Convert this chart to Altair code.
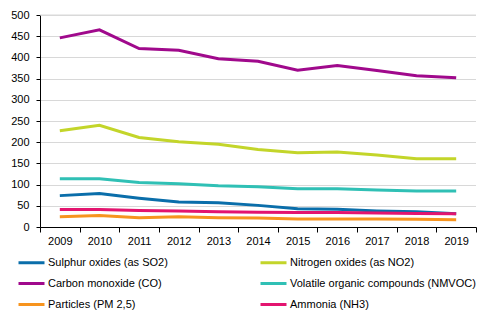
import altair as alt
import pandas as pd

years = ["2009", "2010", "2011", "2012", "2013", "2014", "2015", "2016", "2017", "2018", "2019"]
so2 = [74, 79, 68, 59, 57, 51, 43, 42, 38, 36, 31]
no2 = [227, 240, 211, 201, 195, 183, 175, 177, 170, 161, 161]
co = [446, 465, 421, 417, 397, 391, 370, 381, 369, 357, 352]
voc = [114, 114, 105, 102, 97, 95, 90, 90, 87, 85, 85]
pm = [24, 27, 22, 24, 22, 21, 19, 19, 19, 18, 17]
nh3 = [41, 41, 39, 38, 36, 35, 34, 34, 33, 32, 31]

series = ["Sulphur oxides (as SO2)", "Nitrogen oxides (as NO2)", "Carbon monoxide (CO)",
          "Volatile organic compounds (NMVOC)", "Particles (PM 2,5)", "Ammonia (NH3)"]
values = [so2, no2, co, voc, pm, nh3]
colors = ["#0a6eaa", "#c3d52a", "#a0098c", "#30c0b5", "#f7941e", "#e3146f"]
y_ticks = [0, 50, 100, 150, 200, 250, 300, 350, 400, 450, 500]

rows = []
for name, vals in zip(series, values):
    for y, v in zip(years, vals):
        rows.append({"Year": y, "Series": name, "Value": v})
df = pd.DataFrame(rows)

y_axis = alt.Axis(title=None, values=y_ticks, grid=True, labelOverlap=False,
                  gridColor="#b0b0b0", gridDash=[1, 1], domainColor="#000",
                  tickColor="#000", tickSize=4, labelFontSize=11, labelColor="#000",
                  labelPadding=7, labelFont="Liberation Sans")
y_scale = alt.Scale(domain=[0, 500])

lines = alt.Chart(df).mark_line(strokeWidth=3).encode(
    x=alt.X("Year:O", bandPosition=0.5,
            scale=alt.Scale(type="band", paddingInner=0, paddingOuter=0),
            axis=alt.Axis(title=None, labelAngle=0, tickBand="extent", grid=False,
                          domainColor="#000", tickColor="#000", tickSize=5,
                          labelFontSize=11, labelColor="#000", labelPadding=3,
                          labelFont="Liberation Sans")),
    y=alt.Y("Value:Q", scale=y_scale, axis=y_axis),
    color=alt.Color("Series:N", scale=alt.Scale(domain=series, range=colors),
                    legend=alt.Legend(title=None, orient="none", legendX=-23, legendY=233,
                                      direction="horizontal",
                                      columns=2, columnPadding=86, rowPadding=-4,
                                      symbolType="stroke", symbolSize=676,
                                      symbolStrokeWidth=3, labelFontSize=11,
                                      labelFont="Liberation Sans", labelColor="#000",
                                      labelOffset=2, padding=0, labelLimit=300)),
)

top = alt.Chart().mark_rule(color="#d9d9d9", strokeWidth=1).encode(
    y=alt.Y(datum=500, scale=y_scale, axis=y_axis))

chart = alt.layer(lines, top).properties(
    width=436, height=212,
    autosize=alt.AutoSizeParams(type="none"),
    padding={"left": 40, "top": 15, "right": 15, "bottom": 94},
).configure_view(stroke=None)

chart.save("out.html", embed_options={"renderer": "svg", "actions": False})
